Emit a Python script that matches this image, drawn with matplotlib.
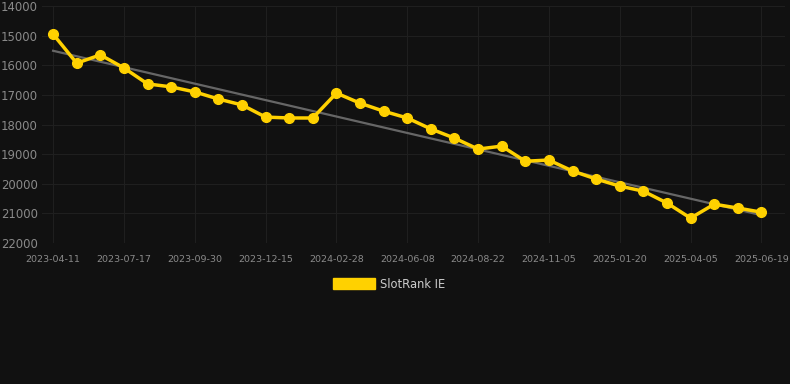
import numpy as np
import matplotlib
matplotlib.use("Agg")
import matplotlib.pyplot as plt
from matplotlib.patches import Patch

# ranks, one point per sample
ranks = [14950, 15930, 15650, 16090, 16630, 16730, 16900, 17140, 17340, 17750,
         17780, 17780, 16940, 17280, 17550, 17780, 18150, 18460, 18830, 18730,
         19240, 19200, 19570, 19840, 20080, 20250, 20650, 21160, 20690, 20820,
         20960]
tick_labels = ['2023-04-11', '2023-07-17', '2023-09-30', '2023-12-15', '2024-02-28',
               '2024-06-08', '2024-08-22', '2024-11-05', '2025-01-20', '2025-04-05',
               '2025-06-19']
series_name = 'SlotRank IE'

bg = '#111111'
gold = '#FFD100'

fig = plt.figure(figsize=(7.9, 3.84), dpi=100, facecolor=bg)
ax = fig.add_axes([42/790, 1-243/384, (785-42)/790, (243-6)/384], facecolor=bg)

x = np.arange(len(ranks))
# trend line (least squares)
k, b = np.polyfit(x, ranks, 1)
ax.plot(x, k*x + b, color='#666666', lw=1.6, zorder=2)
ax.plot(x, ranks, color=gold, lw=2.5, marker='o', ms=7, zorder=3)

ax.set_ylim(22000, 14000)
ax.set_xlim(-0.47, 31.0)
ax.set_yticks(np.arange(14000, 22001, 1000))
ax.set_xticks(x[::3])
ax.set_xticklabels(tick_labels)

ax.grid(True, color='#1f1f1f', lw=0.8)
ax.set_axisbelow(True)
for s in ax.spines.values():
    s.set_visible(False)
ax.tick_params(axis='y', length=0, pad=3, labelsize=8.4, labelcolor='#8a8a8a')
ax.tick_params(axis='x', length=0, pad=9, labelsize=6.8, labelcolor='#8a8a8a')

fig.legend(handles=[Patch(color=gold)], labels=[series_name],
           loc='center', bbox_to_anchor=(0.493, 1-284/384), frameon=False,
           handlelength=3.6, handleheight=1.0, fontsize=8.3, labelcolor='#cccccc',
           handletextpad=0.5)

fig.savefig('out.png', dpi=100, facecolor=bg)
